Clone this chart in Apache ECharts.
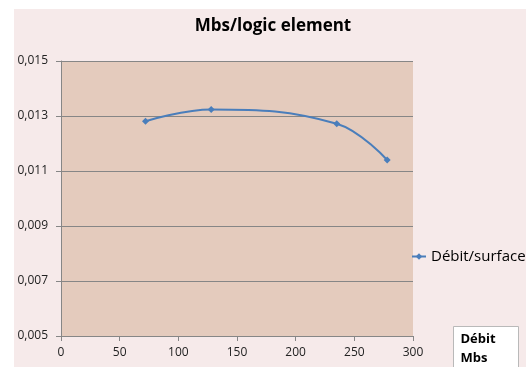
<!DOCTYPE html>
<html>
<head>
<meta charset="utf-8">
<script src="https://cdn.jsdelivr.net/npm/echarts@6/dist/echarts.min.js"></script>
<style>
  html, body { margin: 0; padding: 0; background: #ffffff; }
  #chart { width: 526px; height: 367px; }
</style>
</head>
<body>
<div id="chart"></div>
<script>
// Throughput per logic element versus throughput (Mbs)
const debitMbs = [72, 128, 235, 278];
const debitSurface = [0.01281, 0.01324, 0.01272, 0.0114];
const yTicks = [0.005, 0.007, 0.009, 0.011, 0.013, 0.015];
const xTicks = [0, 50, 100, 150, 200, 250, 300];

const chart = echarts.init(document.getElementById('chart'));
const FONT = '"Open Sans", Lato, sans-serif';

chart.setOption({
  animation: false,
  backgroundColor: '#ffffff',
  textStyle: { fontFamily: FONT },
  title: {
    text: 'Mbs/logic element',
    left: 273,
    top: 18,
    padding: 0,
    textAlign: 'center',
    textStyle: { fontFamily: FONT, fontSize: 17, fontWeight: 'bold', color: '#000000' }
  },
  graphic: [
    { type: 'rect', z: -10, silent: true, shape: { x: 14, y: 9, width: 512, height: 358 }, style: { fill: '#F6EAEA' } },
    {
      type: 'group', left: 453, top: 326, z: 10,
      children: [
        { type: 'rect', shape: { x: 0, y: 0, width: 65, height: 41 }, style: { fill: '#ffffff', stroke: '#b9b9b9', lineWidth: 1 } },
        { type: 'text', left: 7, top: 3, style: { text: 'Débit\nMbs', font: 'bold 13px ' + FONT, fill: '#000000', lineHeight: 19 } }
      ]
    }
  ],
  legend: {
    data: ['Débit/surface'],
    left: 411,
    top: 249,
    padding: 0,
    itemWidth: 14,
    itemHeight: 8,
    textStyle: { fontFamily: FONT, fontSize: 15, color: '#000000' }
  },
  grid: { left: 61, right: 113, top: 61, bottom: 31, show: true, backgroundColor: '#E4CBBD', borderWidth: 0 },
  xAxis: {
    type: 'value',
    min: xTicks[0],
    max: xTicks[xTicks.length - 1],
    interval: 50,
    axisLine: { show: true, lineStyle: { color: '#868686' } },
    axisTick: { show: true, length: 5, lineStyle: { color: '#868686' } },
    splitLine: { show: false },
    axisLabel: { color: '#222222', fontSize: 12, fontFamily: FONT, margin: 11 }
  },
  yAxis: {
    type: 'value',
    min: yTicks[0],
    max: yTicks[yTicks.length - 1],
    interval: 0.002,
    axisLine: { show: true, lineStyle: { color: '#868686' } },
    axisTick: { show: true, length: 5, lineStyle: { color: '#868686' } },
    splitLine: { show: true, lineStyle: { color: '#868686', width: 1 } },
    axisLabel: {
      color: '#222222', fontSize: 12, fontFamily: FONT, margin: 13,
      formatter: v => v.toFixed(3).replace('.', ',')
    }
  },
  series: [{
    name: 'Débit/surface',
    type: 'line',
    smooth: 0.4,
    data: debitMbs.map((x, i) => [x, debitSurface[i]]),
    symbol: 'diamond',
    symbolSize: 7,
    lineStyle: { color: '#4A7EBB', width: 2 },
    itemStyle: { color: '#4A7EBB' }
  }]
});
</script>
</body>
</html>
